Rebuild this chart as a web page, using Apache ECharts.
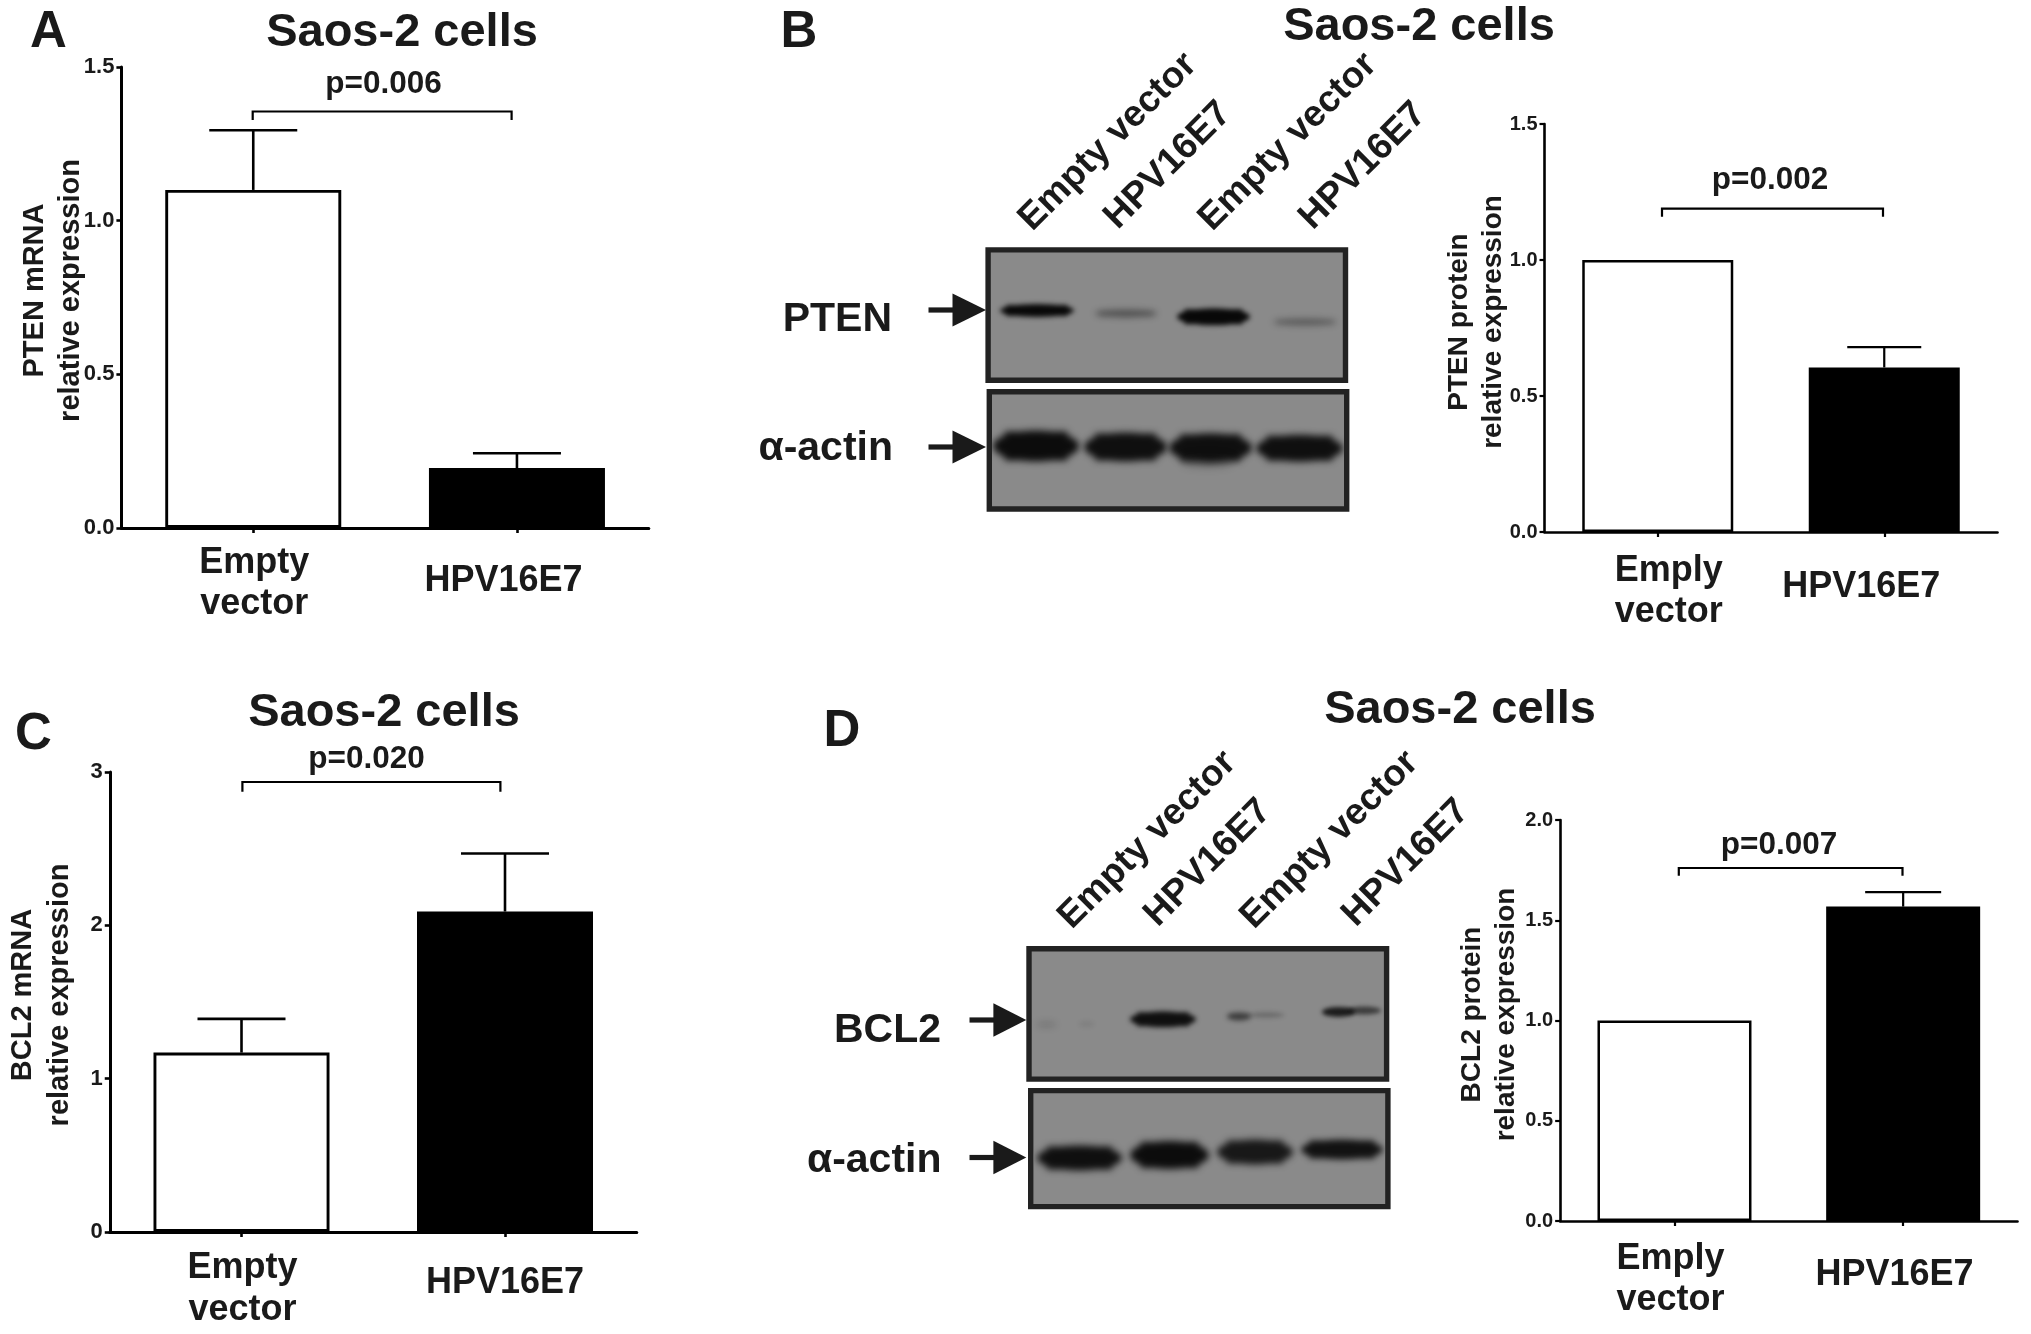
<!DOCTYPE html>
<html><head><meta charset="utf-8">
<style>html,body{margin:0;padding:0;background:#fff}#c{width:2031px;height:1334px}</style>
<script src="https://cdn.jsdelivr.net/npm/echarts@6/dist/echarts.min.js"></script>
</head><body><div id="c"></div>
<script>
// ---- data ----
const emptyLabels = ['Empty\nvector', 'HPV16E7'];
const emplyLabels = ['Emply\nvector', 'HPV16E7'];
const ptenMrnaMeans = [1.10, 0.195];
const ptenMrnaUpper = [1.294, 0.243];
const ptenProteinMeans = [1.0, 0.605];
const ptenProteinUpper = [null, 0.68];
const bcl2MrnaMeans = [1.17, 2.09];
const bcl2MrnaUpper = [1.39, 2.468];
const bcl2ProteinMeans = [1.0, 1.568];
const bcl2ProteinUpper = [null, 1.64];
const laneLabels = ['Empty vector', 'HPV16E7', 'Empty vector', 'HPV16E7'];

const FONT = '"Liberation Sans", Arial, sans-serif';
const INK = '#1a1a1a';

// ---- panels (layout) ----
const panels = [
 {cats: emptyLabels, means: ptenMrnaMeans, upper: ptenMrnaUpper, max: 1.5, step: 0.5, dec: 1,
  name: 'PTEN mRNA\nrelative expression', x0: 121.4, x1: 648.8, yTop: 67, yBot: 528,
  barW: 176, cap: 44, lw: 2.6, nameGap: 32, nameLH: 36, namePad: 14, labLH: 41, labMargin: 15, emptyShift: 1, hpvShift: -13.5, hpvPad: 18},
 {cats: emplyLabels, means: ptenProteinMeans, upper: ptenProteinUpper, max: 1.5, step: 0.5, dec: 1,
  name: 'PTEN protein\nrelative expression', x0: 1544.5, x1: 1997.5, yTop: 124, yBot: 532,
  barW: 151, cap: 37, lw: 2.2, nameGap: 34, nameLH: 34, namePad: 12, labLH: 41, labMargin: 18.5, emptyShift: 11, hpvShift: -23, hpvPad: 16},
 {cats: emptyLabels, means: bcl2MrnaMeans, upper: bcl2MrnaUpper, max: 3, step: 1, dec: 0,
  name: 'BCL2 mRNA\nrelative expression', x0: 109.75, x1: 636.75, yTop: 772, yBot: 1232,
  barW: 176, cap: 44, lw: 2.6, nameGap: 31, nameLH: 37, namePad: 14, labLH: 42, labMargin: 15.5, emptyShift: 1, hpvShift: 0, hpvPad: 15},
 {cats: emplyLabels, means: bcl2ProteinMeans, upper: bcl2ProteinUpper, max: 2, step: 0.5, dec: 1,
  name: 'BCL2 protein\nrelative expression', x0: 1560.15, x1: 2017.5, yTop: 820, yBot: 1221,
  barW: 154, cap: 38, lw: 2.2, nameGap: 37, nameLH: 34, namePad: 12, labLH: 41.6, labMargin: 17, emptyShift: -4, hpvShift: -8.7, hpvPad: 16}
];

const grid = [], xAxis = [], yAxis = [], series = [];
panels.forEach((p, i) => {
  grid.push({left: p.x0, top: p.yTop, width: p.x1 - p.x0, height: p.yBot - p.yTop, containLabel: false, outerBoundsMode: 'none'});
  const axisLine = {show: true, onZero: false, lineStyle: {color: '#000', width: p.lw + 0.4}};
  xAxis.push({
    type: 'category', gridIndex: i,
    data: p.cats.map((c, k) => ({
      value: c,
      textStyle: k === 0
        ? {padding: [0, p.emptyShift < 0 ? -2 * p.emptyShift : 0, 0, p.emptyShift > 0 ? 2 * p.emptyShift : 0]}
        : {padding: [p.hpvPad, p.hpvShift < 0 ? -2 * p.hpvShift : 0, 0, 0]}
    })),
    axisLine,
    axisTick: {show: true, alignWithLabel: true, length: 5, lineStyle: {color: '#000', width: p.lw}},
    axisLabel: {interval: 0, margin: p.labMargin, fontFamily: FONT, fontWeight: 'bold', fontSize: 36, lineHeight: p.labLH, color: INK, hideOverlap: false},
    splitLine: {show: false}
  });
  yAxis.push({
    type: 'value', gridIndex: i, min: 0, max: p.max, interval: p.step,
    axisLine,
    axisTick: {show: true, length: 5, lineStyle: {color: '#000', width: p.lw}},
    axisLabel: {margin: 7, fontFamily: FONT, fontWeight: 'bold', fontSize: i % 2 ? 20 : 22, color: INK,
      formatter: v => v.toFixed(p.dec)},
    splitLine: {show: false},
    name: p.name, nameLocation: 'middle', nameRotate: 90, nameGap: p.nameGap, nameMoveOverlap: false,
    nameTextStyle: {fontFamily: FONT, fontWeight: 'bold', fontSize: i % 2 ? 28 : 29, lineHeight: p.nameLH, color: INK, padding: [0, 0, 0, p.namePad]}
  });
  series.push({
    type: 'bar', xAxisIndex: i, yAxisIndex: i, barWidth: p.barW, silent: true,
    data: p.means.map((v, k) => ({
      value: v,
      itemStyle: {color: k === 0 ? '#fff' : '#000', borderColor: '#000', borderWidth: p.lw + 0.3}
    }))
  });
  series.push({
    type: 'custom', xAxisIndex: i, yAxisIndex: i, clip: false, silent: true, z: 5,
    data: p.means.map((v, k) => [k, v, p.upper[k]]).filter(d => d[2] !== null),
    encode: {x: 0, y: [1, 2]},
    renderItem: (params, api) => {
      const b = api.coord([api.value(0), api.value(1)]);
      const t = api.coord([api.value(0), api.value(2)]);
      const s = {stroke: '#000', lineWidth: p.lw, fill: null};
      return {type: 'group', children: [
        {type: 'line', shape: {x1: b[0], y1: b[1], x2: t[0], y2: t[1]}, style: s},
        {type: 'line', shape: {x1: t[0] - p.cap, y1: t[1], x2: t[0] + p.cap, y2: t[1]}, style: s}
      ]};
    }
  });
});

// ---- annotations and blot drawings ----
const g = [];
const txt = (text, x, y, size, align, extra) => g.push(Object.assign({
  type: 'text', x, y: y + (extra ? 0 : size * 0.08), z: 20, silent: true,
  style: {text, fontFamily: FONT, fontWeight: 'bold', fontSize: size, fill: INK, align: align || 'center', verticalAlign: 'middle'}
}, extra || {}));

[['A', 48.5, 28.5], ['B', 799, 29], ['C', 33.5, 731], ['D', 842, 727.5]].forEach(a => txt(a[0], a[1], a[2], 51));
[[402, 29.5], [1419, 23], [384, 709], [1460, 706]].forEach(t => txt('Saos-2 cells', t[0], t[1], 47));

// significance brackets: [text, textX, textY, x1, x2, y, yEnd]
[['p=0.006', 383.5, 82, 252.7, 511.6, 111.5, 120],
 ['p=0.002', 1770, 178, 1662, 1883, 208.6, 216.8],
 ['p=0.020', 366.5, 757, 242.4, 500.4, 782, 791.8],
 ['p=0.007', 1779, 843, 1678.8, 1902.5, 868, 875.7]].forEach(b => {
  txt(b[0], b[1], b[2], 31.5);
  g.push({type: 'polyline', z: 20, silent: true,
    shape: {points: [[b[3], b[6]], [b[3], b[5]], [b[4], b[5]], [b[4], b[6]]]},
    style: {stroke: '#000', lineWidth: 2.2, fill: null}});
});

// lane labels
[[1108, 142], [1168, 165.5], [1288, 142], [1363, 166],
 [1147.4, 840], [1208, 863], [1329.6, 840], [1406, 863]].forEach((c, i) =>
  txt(laneLabels[i % 4], c[0], c[1], 37, 'center', {rotation: Math.PI / 4, originX: 0, originY: 0}));

// protein labels
[['PTEN', 892, 316.8], ['α-actin', 893, 445], ['BCL2', 941, 1027], ['α-actin', 941.5, 1157.6]]
  .forEach(l => txt(l[0], l[1], l[2], 41, 'right'));

// blot frames [x0,y0,x1,y1]
const BLOT = '#8a8a8a';
[[985.4, 247.2, 1348.2, 383], [986.6, 389, 1349.4, 511.7], [1026.3, 946, 1389.3, 1081.8], [1028, 1087.9, 1390.6, 1209.3]]
  .forEach(f => g.push({type: 'rect', z: 10, silent: true,
    shape: {x: f[0] + 2.7, y: f[1] + 2.7, width: f[2] - f[0] - 5.4, height: f[3] - f[1] - 5.4},
    style: {fill: BLOT, stroke: '#222', lineWidth: 5.4}}));

// western-blot bands, soft-edged, painted to one image: [x0,x1,yc,h,alpha,blur]
const bands = [[1003, 1071, 310.6, 11, 1, 2.6], [1098, 1154, 313.4, 6, 0.42, 3], [1180, 1247, 316.8, 15, 1, 2.6], [1276, 1334, 322, 5, 0.36, 3],
 [996, 1076, 446, 29, 0.97, 3.5], [1087, 1164, 447, 27, 0.95, 3.5], [1172, 1249, 447.7, 27, 0.95, 3.5], [1259, 1340, 448.3, 25, 0.95, 3.5],
 [1185, 1230, 461, 9, 0.3, 4],
 [1039, 1054, 1024.6, 5, 0.12, 3], [1082, 1091, 1024, 4, 0.08, 2], [1133, 1193, 1019.3, 14, 0.95, 2.6],
 [1230, 1248, 1016.4, 6, 0.6, 2.4], [1252, 1281, 1015, 4, 0.22, 2], [1325, 1352, 1012, 8, 0.85, 2.2], [1350, 1378, 1010.5, 6, 0.6, 2.2],
 [1040, 1119, 1157.9, 23, 0.95, 3.5], [1133, 1206, 1155, 26, 0.97, 3.5], [1220, 1290, 1152, 23, 0.88, 3.5], [1304, 1380, 1149.6, 18, 0.92, 3]];
const clips = [[991, 253, 352, 124], [992, 395, 352, 111], [1032, 952, 352, 124], [1034, 1094, 351, 110]];
const layer = document.createElement('canvas');
layer.width = 2031; layer.height = 1334;
const ctx = layer.getContext('2d');
ctx.beginPath(); clips.forEach(c => ctx.rect(c[0], c[1], c[2], c[3])); ctx.clip();
bands.forEach(b => {
  ctx.filter = 'blur(' + b[5] + 'px)';
  ctx.fillStyle = 'rgba(8,8,8,' + b[4] + ')';
  ctx.beginPath();
  ctx.ellipse((b[0] + b[1]) / 2, b[2], (b[1] - b[0]) / 2 + 3, b[3] / 2 + 1, 0, 0, 2 * Math.PI);
  ctx.rect(b[0] + b[3] * 0.3, b[2] - b[3] / 2, b[1] - b[0] - b[3] * 0.6, b[3]);
  ctx.fill('nonzero');
});
g.push({type: 'image', z: 11, silent: true, style: {image: layer, x: 0, y: 0, width: 2031, height: 1334}});

// arrows [x0, xNeck, xTip, y, half]
[[928.5, 952.5, 986, 310, 16.5], [928.5, 952.5, 986, 447, 16.5], [969.5, 993.4, 1026.3, 1020, 16.7], [969.5, 993.4, 1026.3, 1157.5, 16.7]]
  .forEach(a => {
    g.push({type: 'rect', z: 12, silent: true, shape: {x: a[0], y: a[3] - 2.6, width: a[1] - a[0] + 2, height: 5.2}, style: {fill: '#1a1a1a'}});
    g.push({type: 'polygon', z: 12, silent: true, shape: {points: [[a[1], a[3] - a[4]], [a[2], a[3]], [a[1], a[3] + a[4]]]}, style: {fill: '#1a1a1a'}});
  });

const chart = echarts.init(document.getElementById('c'), null, {renderer: 'canvas', width: 2031, height: 1334});
chart.setOption({animation: false, backgroundColor: '#fff', grid, xAxis, yAxis, series, graphic: {elements: g}, tooltip: {show: false}});
</script></body></html>
